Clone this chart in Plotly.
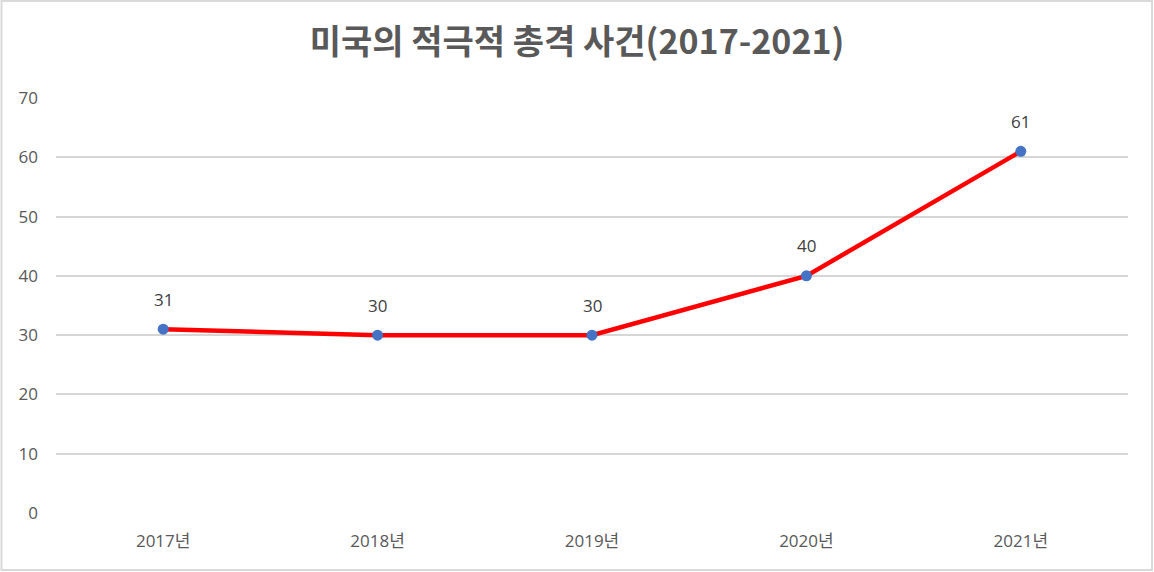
import plotly.graph_objects as go

categories = ["2017년", "2018년", "2019년", "2020년", "2021년"]
values = [31, 30, 30, 40, 61]
y_ticks = [0, 10, 20, 30, 40, 50, 60, 70]

W, H = 1154, 572
L, R, T, B = 56, 26, 98, 59
pw, ph = W - L - R, H - T - B

font = "Open Sans, Noto Sans CJK KR, sans-serif"
title_font = "Noto Sans CJK KR, Open Sans, sans-serif"

fig = go.Figure()
fig.add_trace(go.Scatter(
    x=categories, y=values, mode="lines+markers",
    line=dict(color="#FF0000", width=4.5),
    marker=dict(color="#4472C4", size=11),
    hoverinfo="skip", showlegend=False,
))

for c, v in zip(categories, values):
    fig.add_annotation(x=c, y=v, text=str(v), showarrow=False, yshift=30,
                       font=dict(family=font, size=17, color="#404040"))

fig.add_shape(type="rect", xref="paper", yref="paper",
              x0=(1.5 - L) / pw, x1=(W - 2 - L) / pw,
              y0=(2 - B) / ph, y1=(H - 1 - B) / ph,
              line=dict(color="#D9D9D9", width=2), fillcolor="rgba(0,0,0,0)", layer="below")

fig.update_layout(
    width=W, height=H,
    margin=dict(l=L, r=R, t=T, b=B, autoexpand=False),
    paper_bgcolor="white", plot_bgcolor="white",
    title=dict(text="<b>미국의 적극적 총격 사건(2017-2021)</b>", x=0.5, xref="container", xanchor="center",
               y=1 - 42 / H, yref="container", yanchor="middle",
               font=dict(family=title_font, size=34, color="#595959")),
    xaxis=dict(type="category", range=[-0.5, 4.5], showgrid=False, showline=False, zeroline=False,
               ticks="", ticklabelstandoff=16,
               tickfont=dict(family=font, size=17, color="#595959")),
    yaxis=dict(range=[0, 70], tickvals=y_ticks, showgrid=True, gridcolor="#D6D6D6", gridwidth=1.6,
               zeroline=False, showline=False, ticks="", ticklabelstandoff=17,
               tickfont=dict(family=font, size=17, color="#595959")),
)

fig.write_html("out.html", config={"displayModeBar": False},
               post_script="document.body.style.margin='0';")
